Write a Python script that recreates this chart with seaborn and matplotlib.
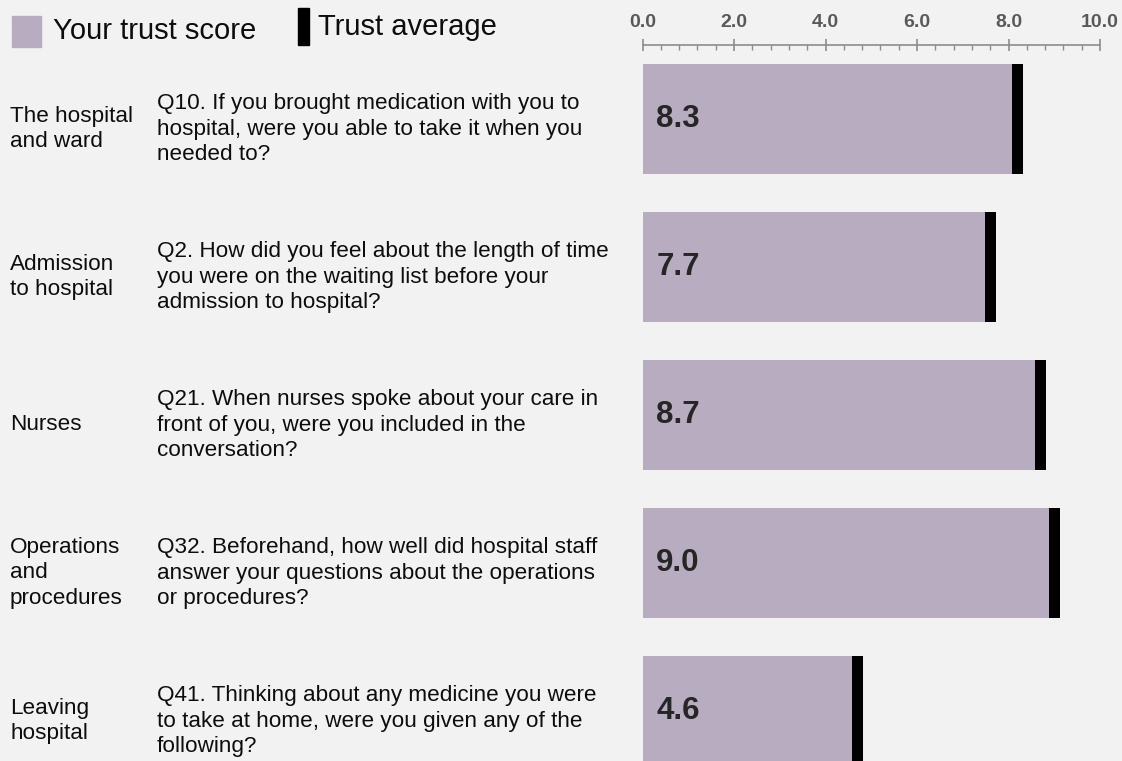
import numpy as np
import pandas as pd
import matplotlib
matplotlib.use("Agg")
import matplotlib.pyplot as plt
from matplotlib.patches import Rectangle
from matplotlib.ticker import MultipleLocator, FormatStrFormatter
import seaborn as sns

# data
sections = ["The hospital\nand ward", "Admission\nto hospital", "Nurses",
            "Operations\nand\nprocedures", "Leaving\nhospital"]
questions = [
    "Q10. If you brought medication with you to\nhospital, were you able to take it when you\nneeded to?",
    "Q2. How did you feel about the length of time\nyou were on the waiting list before your\nadmission to hospital?",
    "Q21. When nurses spoke about your care in\nfront of you, were you included in the\nconversation?",
    "Q32. Beforehand, how well did hospital staff\nanswer your questions about the operations\nor procedures?",
    "Q41. Thinking about any medicine you were\nto take at home, were you given any of the\nfollowing?",
]
your_score = [8.3, 7.7, 8.7, 9.0, 4.6]
trust_avg = [8.2, 7.6, 8.7, 9.0, 4.7]

BG = "#f2f2f2"
BAR = "#b8acc1"
W, H = 1122, 761

sns.set_theme(style="white")
plt.rcParams["font.family"] = ["Liberation Sans", "DejaVu Sans"]

df = pd.DataFrame({"q": questions, "score": your_score})

fig = plt.figure(figsize=(W / 100, H / 100), dpi=100, facecolor=BG)
# axes spans the full height so rows can be placed by pixel spacing
ax = fig.add_axes([642.5 / W, 0, 457.5 / W, 1])
ax.set_facecolor(BG)

sns.barplot(data=df, x="score", y="q", orient="h", color=BAR, width=0.743,
            saturation=1, linewidth=0, ax=ax)

# trust average marker: a thin black block centred on the average
mw = 0.24
ax.barh(np.arange(len(trust_avg)), [mw] * len(trust_avg),
        left=np.array(trust_avg) - mw / 2, height=0.743, color="black",
        linewidth=0)

for i, v in enumerate(your_score):
    ax.text(0.3, i, f"{v:.1f}", ha="left", va="center", fontsize=22.5,
            fontweight="bold", color="#262626")

row_px = 148.0
top_px = 119.0
ax.set_ylim((H - top_px) / row_px, -top_px / row_px)
ax.set_xlim(0, 10)

# scale on top
for s in ["left", "right", "bottom"]:
    ax.spines[s].set_visible(False)
ax.spines["top"].set_position(("axes", 1 - 45 / H))
ax.spines["top"].set_color("#8c8c8c")
ax.spines["top"].set_linewidth(1.2)
ax.xaxis.tick_top()
ax.xaxis.set_major_locator(MultipleLocator(2))
ax.xaxis.set_minor_locator(MultipleLocator(0.4))
ax.xaxis.set_major_formatter(FormatStrFormatter("%.1f"))
ax.tick_params(axis="x", which="major", direction="inout", length=8, width=1.2,
               color="#8c8c8c", pad=6, labelsize=14, labelcolor="#595959")
ax.tick_params(axis="x", which="minor", direction="in", length=3.5, width=1,
               color="#8c8c8c")
for lab in ax.get_xticklabels():
    lab.set_fontweight("bold")
ax.set_yticks([])
ax.set_xlabel("")
ax.set_ylabel("")

# left text columns
for i, (sec, q) in enumerate(zip(sections, questions)):
    yc = 1 - (top_px + row_px * i + 10) / H
    fig.text(10 / W, yc, sec, ha="left", va="center", fontsize=16.2,
             color="#0d0d0d", linespacing=1.3)
    fig.text(157 / W, yc, q, ha="left", va="center", fontsize=16.2,
             color="#0d0d0d", linespacing=1.3)

# legend
fig.patches.append(Rectangle((12 / W, 1 - 47 / H), 29 / W, 31 / H,
                             transform=fig.transFigure, color=BAR))
fig.text(53 / W, 1 - 31 / H, "Your trust score", ha="left", va="center",
         fontsize=21, color="#0d0d0d")
fig.patches.append(Rectangle((298 / W, 1 - 45 / H), 11 / W, 37 / H,
                             transform=fig.transFigure, color="black"))
fig.text(318 / W, 1 - 27 / H, "Trust average", ha="left", va="center",
         fontsize=21, color="#0d0d0d")

fig.savefig("out.png", dpi=100, facecolor=BG)
